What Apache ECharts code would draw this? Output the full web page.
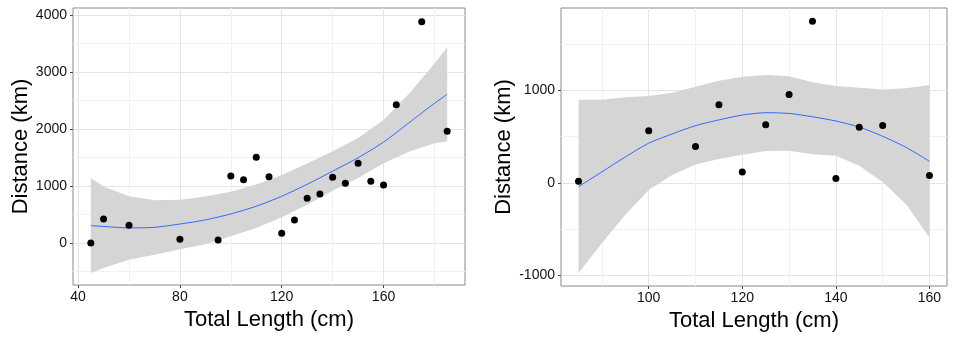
<!DOCTYPE html>
<html><head><meta charset="utf-8">
<script src="https://cdn.jsdelivr.net/npm/echarts@6/dist/echarts.min.js"></script>
<style>html,body{margin:0;padding:0;background:#fff}#c{width:957px;height:339px}</style>
</head><body><div id="c"></div>
<script>
// ---------- Left panel data ----------
const leftPointsX = [45,50,60,80,95,100,105,110,115,120,125,130,135,140,145,150,155,160,165,175,185];
const leftPointsY = [0,420,310,65,53,1175,1111,1503,1164,170,404,784,860,1152,1047,1398,1082,1018,2427,3883,1959];
const leftFitX  = [45,50,60,70,80,90,100,110,120,130,140,150,160,170,180,185];
const leftFit   = [304,290,265,275,333,405,510,645,820,1030,1260,1495,1770,2110,2450,2610];
const leftUpper = [1135,990,820,750,760,815,900,1025,1195,1395,1610,1840,2160,2620,3150,3435];
const leftLower = [-525,-440,-295,-205,-110,-20,120,265,450,670,915,1140,1400,1600,1750,1780];
const leftXTicks = [40,80,120,160];
const leftXMinor = [60,100,140,180];
const leftYTicks = [0,1000,2000,3000,4000];
const leftYMinor = [-500,500,1500,2500,3500];

// ---------- Right panel data ----------
const rightPointsX = [85,100,110,115,120,125,130,135,140,145,150,160];
const rightPointsY = [18,564,395,846,119,629,958,1750,47,604,622,80];
const rightFitX  = [85,90,95,100,105,110,115,120,125,130,135,140,145,150,155,160];
const rightFit   = [-40,120,282,430,530,620,682,735,760,752,716,670,605,505,385,235];
const rightUpper = [900,900,926,940,975,1040,1105,1150,1168,1155,1090,1050,1030,1012,1025,1060];
const rightLower = [-975,-650,-345,-75,85,200,260,305,347,348,310,295,185,10,-230,-590];
const rightXTicks = [100,120,140,160];
const rightXMinor = [90,110,130,150];
const rightYTicks = [-1000,0,1000];
const rightYMinor = [-500,500,1500];

const xTitle = 'Total Length (cm)';
const yTitle = 'Distance (km)';

const FONT = '"Liberation Sans", Arial, sans-serif';
const MAJOR = '#e4e4e4', MINOR = '#f1f1f1';
const plain = v => String(v);

function xAxes(g, min, max, ticks, minor) {
  return [{
    type:'value', gridIndex:g, min:min, max:max, position:'bottom',
    axisLine:{show:false, onZero:false},
    axisTick:{show:true, length:3, lineStyle:{color:'#444'}, customValues:ticks},
    axisLabel:{customValues:ticks, formatter:plain, color:'#111', fontSize:14, margin:5, fontFamily:FONT},
    splitLine:{show:true, lineStyle:{color:MAJOR, width:1}},
    name:xTitle, nameLocation:'middle', nameGap:20,
    nameTextStyle:{fontSize:22, color:'#000', fontFamily:FONT}
  },{
    type:'value', gridIndex:g, min:min, max:max, position:'bottom',
    axisLine:{show:false, onZero:false},
    axisTick:{show:false, customValues:minor},
    axisLabel:{show:false, customValues:minor},
    splitLine:{show:true, lineStyle:{color:MINOR, width:1}}
  }];
}
function yAxes(g, min, max, ticks, minor, gap) {
  return [{
    type:'value', gridIndex:g, min:min, max:max, position:'left',
    axisLine:{show:false, onZero:false},
    axisTick:{show:true, length:3, lineStyle:{color:'#444'}, customValues:ticks},
    axisLabel:{customValues:ticks, formatter:plain, color:'#111', fontSize:14, margin:6, fontFamily:FONT},
    splitLine:{show:true, lineStyle:{color:MAJOR, width:1}},
    name:yTitle, nameLocation:'middle', nameGap:gap,
    nameTextStyle:{fontSize:22, color:'#000', fontFamily:FONT}
  },{
    type:'value', gridIndex:g, min:min, max:max, position:'left',
    axisLine:{show:false, onZero:false},
    axisTick:{show:false, customValues:minor},
    axisLabel:{show:false, customValues:minor},
    splitLine:{show:true, lineStyle:{color:MINOR, width:1}}
  }];
}
function ribbon(xs, lo, hi, xi, yi) {
  return {
    type:'custom', xAxisIndex:xi, yAxisIndex:yi, z:1, silent:true,
    data: xs.map((x,i)=>[x, lo[i], hi[i]]),
    renderItem: function(params, api) {
      if (params.dataIndex !== 0) return null;
      const pts = [];
      for (let i=0;i<xs.length;i++) pts.push(api.coord([xs[i], hi[i]]));
      for (let i=xs.length-1;i>=0;i--) pts.push(api.coord([xs[i], lo[i]]));
      return {type:'polygon', shape:{points:pts}, style:{fill:'#d5d5d5'}};
    }
  };
}
function fitLine(xs, ys, xi, yi) {
  return {type:'line', xAxisIndex:xi, yAxisIndex:yi, z:3, silent:true, showSymbol:false, smooth:0.25,
    data: xs.map((x,i)=>[x, ys[i]]), lineStyle:{color:'#3366FF', width:1}};
}
function points(xs, ys, xi, yi) {
  return {type:'scatter', xAxisIndex:xi, yAxisIndex:yi, z:4, silent:true, symbolSize:7,
    itemStyle:{color:'#000', opacity:1}, data: xs.map((x,i)=>[x, ys[i]])};
}

const chart = echarts.init(document.getElementById('c'), null, {renderer:'canvas'});
chart.setOption({
  animation:false,
  backgroundColor:'#fff',
  grid:[
    {left:73, top:8, width:392, height:277, show:true, borderColor:'#8a8a8a', borderWidth:1, backgroundColor:'transparent', outerBoundsMode:'none'},
    {left:561, top:8, width:386, height:278, show:true, borderColor:'#8a8a8a', borderWidth:1, backgroundColor:'transparent', outerBoundsMode:'none'}
  ],
  xAxis: [].concat(
    xAxes(0, 38, 192, leftXTicks, leftXMinor),
    xAxes(1, 81.25, 163.75, rightXTicks, rightXMinor)
  ),
  yAxis: [].concat(
    yAxes(0, -737, 4123, leftYTicks, leftYMinor, 29),
    yAxes(1, -1115, 1893, rightYTicks, rightYMinor, 36)
  ),
  series: [
    ribbon(leftFitX, leftLower, leftUpper, 0, 0),
    fitLine(leftFitX, leftFit, 0, 0),
    points(leftPointsX, leftPointsY, 0, 0),
    ribbon(rightFitX, rightLower, rightUpper, 2, 2),
    fitLine(rightFitX, rightFit, 2, 2),
    points(rightPointsX, rightPointsY, 2, 2)
  ]
});
</script></body></html>
